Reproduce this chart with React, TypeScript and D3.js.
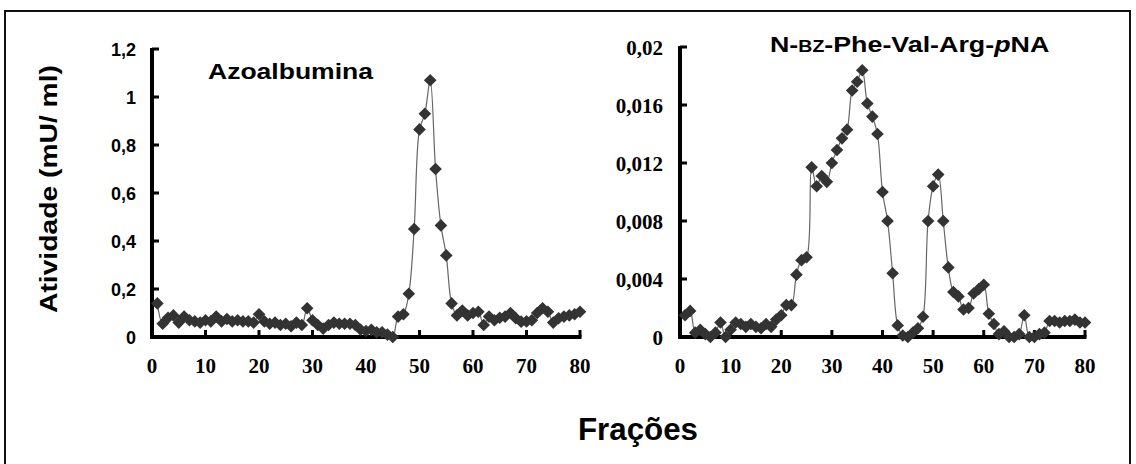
import React from "react";
import * as d3 from "d3";

// Fraction numbers collected from the column
const fractions = d3.range(1, 81);

// Activity against azoalbumin (mU/ml)
const azoValues = [
  0.14, 0.055, 0.08, 0.09, 0.06, 0.085, 0.07, 0.065, 0.06, 0.07,
  0.065, 0.085, 0.065, 0.075, 0.065, 0.07, 0.065, 0.065, 0.06, 0.095,
  0.065, 0.055, 0.06, 0.05, 0.055, 0.045, 0.06, 0.05, 0.12, 0.07,
  0.05, 0.035, 0.05, 0.06, 0.055, 0.055, 0.055, 0.05, 0.03, 0.025,
  0.03, 0.02, 0.02, 0.01, 0.0, 0.085, 0.095, 0.18, 0.45, 0.865,
  0.93, 1.07, 0.7, 0.465, 0.34, 0.14, 0.09, 0.11, 0.09, 0.1,
  0.105, 0.05, 0.085, 0.07, 0.08, 0.085, 0.1, 0.078, 0.064, 0.065,
  0.07, 0.1, 0.12, 0.105, 0.06, 0.078, 0.085, 0.09, 0.095, 0.105,
];

// Activity against N-Bz-Phe-Val-Arg-pNA (mU/ml)
const bapnaValues = [
  0.0015, 0.0018, 0.0003, 0.0005, 0.0002, 0.0, 0.0003, 0.001, 0.0, 0.0005,
  0.001, 0.0009, 0.0007, 0.0009, 0.0007, 0.0006, 0.0009, 0.0007, 0.0012, 0.0015,
  0.0022, 0.0022, 0.0043, 0.0053, 0.0055, 0.0117, 0.0104, 0.0111, 0.0107, 0.012,
  0.0129, 0.0137, 0.0143, 0.017, 0.0176, 0.0184, 0.0161, 0.0152, 0.014, 0.01,
  0.008, 0.0044, 0.0008, 0.0001, 0.0, 0.0003, 0.0006, 0.0014, 0.008, 0.0104,
  0.0112, 0.008, 0.0048, 0.0031, 0.0028, 0.0019, 0.002, 0.003, 0.0033, 0.0036,
  0.0016, 0.0009, 0.0002, 0.0004, 0.0, 0.0, 0.0002, 0.0015, 0.0, 0.0,
  0.0002, 0.0003, 0.0011, 0.0011, 0.001, 0.0011, 0.0011, 0.0012, 0.001, 0.001,
];

const xTicks = [0, 10, 20, 30, 40, 50, 60, 70, 80];
const azoTicks = [0, 0.2, 0.4, 0.6, 0.8, 1, 1.2];
const bapnaTicks = [0, 0.004, 0.008, 0.012, 0.016, 0.02];

const fmt = (v: number) => String(+v.toFixed(4)).replace(".", ",");

const SANS = "'Liberation Sans', Arial, sans-serif";
const SERIF = "'Liberation Serif', 'Times New Roman', serif";

const diamond = (s: number) => `M0,${-s}L${s},0L0,${s}L${-s},0Z`;

type PanelProps = {
  values: number[];
  x: d3.ScaleLinear<number, number>;
  y: d3.ScaleLinear<number, number>;
  yTicks: number[];
  yFont: string;
  yFontSize: number;
  yLabelGap: number;
};

function Panel({ values, x, y, yTicks, yFont, yFontSize, yLabelGap }: PanelProps) {
  const [x0, x1] = x.range();
  const [yb, yt] = y.range();
  const pts = fractions.map((f, i) => [f, values[i]] as [number, number]);
  const line = d3
    .line<[number, number]>()
    .x((d) => x(d[0]))
    .y((d) => y(d[1]))
    .curve(d3.curveCatmullRom.alpha(0.5));
  return (
    <g>
      {/* axes */}
      <line x1={x0} x2={x0} y1={yt - 1} y2={yb + 2} stroke="#000" strokeWidth={4} />
      <line x1={x0 - 2} x2={x1 + 1.5} y1={yb} y2={yb} stroke="#000" strokeWidth={4} />
      {yTicks.map((t) => (
        <g key={"y" + t}>
          <line x1={x0} x2={x0 + 7} y1={y(t)} y2={y(t)} stroke="#000" strokeWidth={3} />
          <text
            x={x0 - yLabelGap}
            y={y(t) + 1}
            textAnchor="end"
            dominantBaseline="central"
            fontFamily={yFont}
            fontWeight="bold"
            fontSize={yFontSize}
          >
            {fmt(t)}
          </text>
        </g>
      ))}
      {xTicks.map((t) => (
        <g key={"x" + t}>
          <line x1={x(t)} x2={x(t)} y1={yb} y2={yb - 7} stroke="#000" strokeWidth={3} />
          <text
            x={x(t)}
            y={yb + 36}
            textAnchor="middle"
            fontFamily={SERIF}
            fontWeight="bold"
            fontSize={21}
          >
            {t}
          </text>
        </g>
      ))}
      {/* series */}
      <path d={line(pts) ?? ""} fill="none" stroke="#666" strokeWidth={1.2} />
      {pts.map((d) => (
        <path
          key={d[0]}
          d={diamond(6.3)}
          transform={`translate(${x(d[0])},${y(d[1])})`}
          fill="#333"
        />
      ))}
    </g>
  );
}

export default function App() {
  const xL = d3.scaleLinear().domain([0, 80]).range([152, 580]);
  const yL = d3.scaleLinear().domain([0, 1.2]).range([337, 49]);
  const xR = d3.scaleLinear().domain([0, 80]).range([680, 1085]);
  const yR = d3.scaleLinear().domain([0, 0.02]).range([337, 47]);

  return (
    <svg
      width={1136}
      height={464}
      style={{ position: "absolute", left: 0, top: 0, background: "#fff" }}
    >
      <rect x={0} y={0} width={1136} height={464} fill="#fff" />
      <rect x={5} y={11} width={1125} height={470} fill="none" stroke="#111" strokeWidth={2} />

      <Panel values={azoValues} x={xL} y={yL} yTicks={azoTicks} yFont={SANS} yFontSize={18} yLabelGap={16} />
      <Panel values={bapnaValues} x={xR} y={yR} yTicks={bapnaTicks} yFont={SERIF} yFontSize={21} yLabelGap={17} />

      <text
        x={208}
        y={79}
        fontFamily={SANS}
        fontWeight="bold"
        fontSize={22}
        textLength={165}
        lengthAdjust="spacingAndGlyphs"
      >
        Azoalbumina
      </text>

      <g transform="translate(770,52) scale(1.22,1)">
        <text x={0} y={0} fontFamily={SANS} fontWeight="bold" fontSize={22}>
          N-<tspan fontSize={16}>BZ</tspan>-Phe-Val-Arg-<tspan fontStyle="italic">p</tspan>NA
        </text>
      </g>

      <text
        transform="translate(57,189) rotate(-90)"
        textAnchor="middle"
        fontFamily={SANS}
        fontWeight="bold"
        fontSize={24}
        textLength={248}
        lengthAdjust="spacingAndGlyphs"
      >
        Atividade (mU/ ml)
      </text>

      <text
        x={638}
        y={440}
        textAnchor="middle"
        fontFamily={SANS}
        fontWeight="bold"
        fontSize={32}
        textLength={120}
        lengthAdjust="spacingAndGlyphs"
      >
        Frações
      </text>
    </svg>
  );
}
